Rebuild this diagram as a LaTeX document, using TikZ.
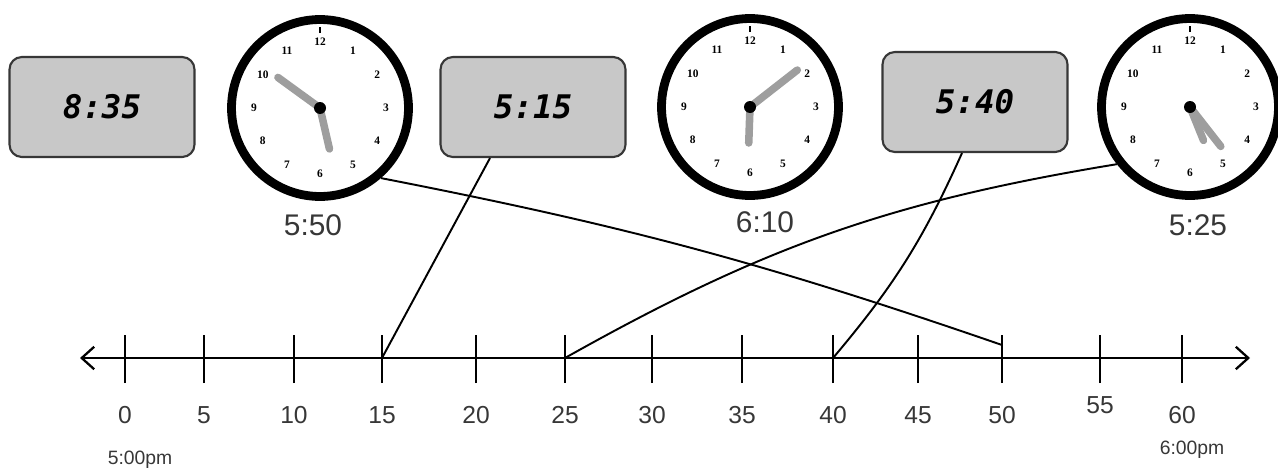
\documentclass[tikz,border=0pt]{standalone}
\usepackage{fontspec}
\setmainfont{Liberation Sans}
\newfontfamily\digitalfont{DejaVu Sans Mono}
\newfontfamily\facefont{Liberation Serif}
\usepackage{tikz}
\newcommand{\boxwidth}{3.7cm}
\newcommand{\boxheight}{2cm}
\newcommand{\clocksize}{3.54cm}
\definecolor{boxGray}{RGB}{200,200,200}
\definecolor{handGray}{RGB}{158,158,158}
\definecolor{penGray}{RGB}{55,55,55}
\usetikzlibrary{arrows.meta,calc}
\tikzset{
  x=0.02cm,y=0.02cm,
  timebox/.style={draw=penGray,fill=boxGray,line width=1.2pt,rounded corners=7pt,minimum width=\boxwidth,minimum height=\boxheight,font=\digitalfont\bfseries\itshape\fontsize{18.5}{22}\selectfont},
  clock/.style={draw,line width=5pt,shape=circle,minimum size=\clocksize,inner sep=0},
  clocknum/.style={font=\facefont\bfseries\fontsize{6.5}{6.5}\selectfont,inner sep=0},
  hand/.style={draw=handGray,line width=4.3pt,line cap=round},
  written/.style={font=\fontsize{17}{20}\selectfont,text=penGray},
  ticklabel/.style={font=\fontsize{14}{16}\selectfont,text=penGray},
  pmlabel/.style={font=\fontsize{11}{13}\selectfont,text=penGray},
  tickmark/.style={draw,line width=1.1pt},
  line/.style={draw,line width=1.1pt},
  numline/.style={draw,line width=1.3pt,{Straight Barb[length=2.5mm,width=4.5mm]}-{Straight Barb[length=2.5mm,width=4.5mm]}},
}
\begin{document}
\begin{tikzpicture}
  \useasboundingbox (0,0) rectangle (1278,471);
  % time cards
  \node (b1) [timebox] at (102,364) {8:35};
  \node (b2) [timebox] at (533,364) {5:15};
  \node (b3) [timebox] at (975,369) {5:40};
  % clock faces
  \node (c1) [clock] at (320,363) {};
  \node (c2) [clock] at (750,364) {};
  \node (c3) [clock] at (1190,364) {};
  \foreach \c in {c1,c2,c3} {
    \foreach \n in {1,...,12}
      \node[clocknum] at ($(\c)+(90-30*\n:66)$) {\n};
    \draw[line width=0.6pt] ($(\c)+(0,75)$) -- ($(\c)+(0,81)$);
  }
  \draw[hand] (c1.center) -- ++(144:52);
  \draw[hand] (c1.center) -- ++(-77:42);
  \draw[hand] (c2.center) -- ++(38:60);
  \draw[hand] (c2.center) -- ++(-92:36);
  \draw[hand] (c3.center) -- ++(-68:36);
  \draw[hand] (c3.center) -- ++(-52:50);
  \foreach \c in {c1,c2,c3}
    \fill (\c) circle (6);
  \node (l1) [written] at (313,246) {5:50};
  \node (l2) [written] at (765,249) {6:10};
  \node (l3) [written] at (1198,246) {5:25};
  % number line
  \coordinate (lft) at (80,113);
  \coordinate (rgt) at (1250,113);
  \path [numline] (lft) -- (rgt);
  \foreach \m/\x/\y in {0/125/56,5/204/56,10/294/56,15/382/56,20/476/56,25/565/56,30/652/56,35/742/56,40/833/56,45/918/56,50/1002/56,55/1100/66,60/1182/56} {
    \coordinate (t\m) at (\x,113);
    \path [tickmark] (\x,88) -- (\x,136);
    \node[ticklabel] at (\x,\y) {\m};
  }
  \node (start) [pmlabel] at (140,11) {5:00pm};
  \node (end) [pmlabel] at (1192,21) {6:00pm};
  % matches
  \path [line] (c1.-49) to[bend left=4] ([yshift=0.26cm]t50);
  \path [line] ([xshift=-0.86cm]b2.south) -- (t15);
  \path [line] ([xshift=-0.26cm]b3.south) to[bend left=8] (t40);
  \path [line] (c3.-142) to[bend right=10] (t25);
\end{tikzpicture}
\end{document}
